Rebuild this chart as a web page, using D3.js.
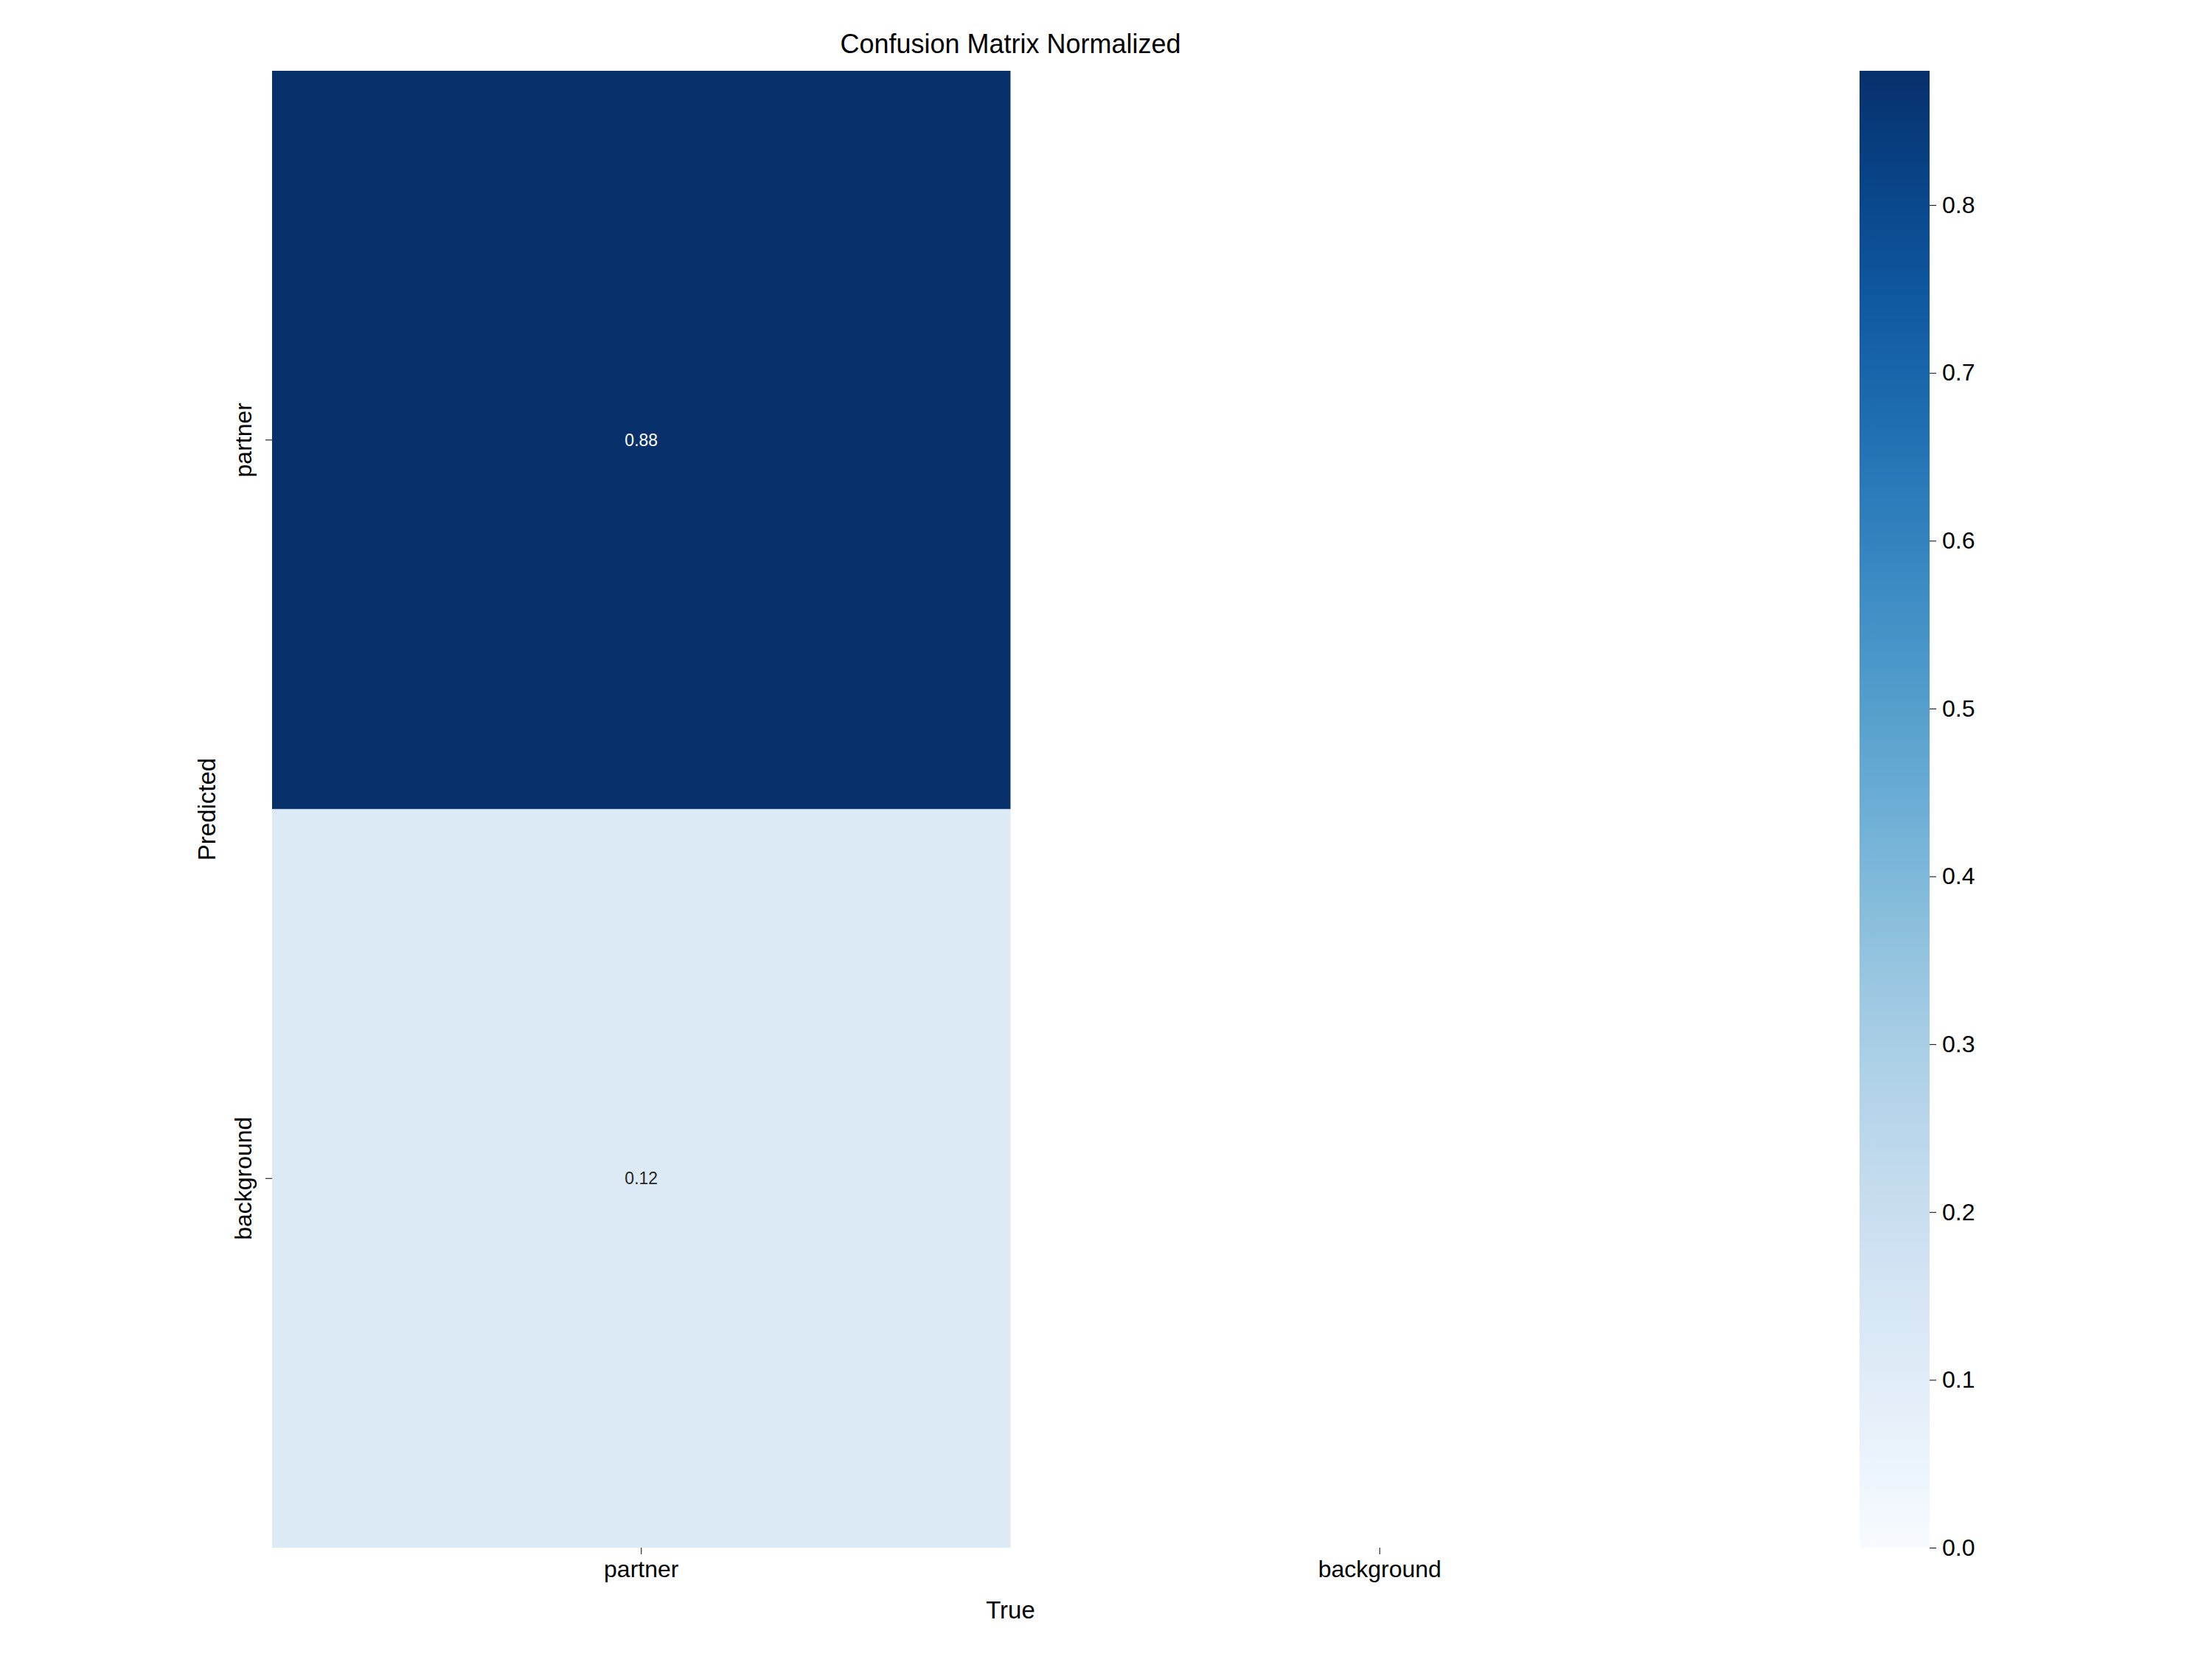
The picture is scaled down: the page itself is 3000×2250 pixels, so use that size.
<!DOCTYPE html>
<html><head><meta charset="utf-8">
<script src="https://cdn.jsdelivr.net/npm/d3@7"></script>
<style>body{margin:0;background:#fff}text{font-family:Arial,"Liberation Sans",sans-serif}</style>
</head><body><svg id="c" width="3000" height="2250"></svg>
<script>
// data: rows = predicted, cols = true; null = not drawn
let labels = ["partner", "background"];
let partner_col = [0.88, 0.12];
let background_col = [null, null];
let cbar_ticks = [0, 0.1, 0.2, 0.3, 0.4, 0.5, 0.6, 0.7, 0.8];

let cells = [];
labels.forEach((p, i) => {
    cells.push({t: "partner", p: p, v: partner_col[i]});
    cells.push({t: "background", p: p, v: background_col[i]});
});
let vmax = d3.max(cells, d => d.v);

let svg = d3.select("#c");
let m_left = 369, m_right = 2372, m_top = 96, m_bottom = 2099;

let x = d3.scaleBand().domain(labels).range([m_left, m_right]);
let y = d3.scaleBand().domain(labels).range([m_top, m_bottom]);
let color = d3.scaleSequential(d3.interpolateBlues).domain([0, vmax]);

let shown = cells.filter(d => d.v != null && d.v > 0);

svg.selectAll("rect.cell").data(shown).enter()
    .append("rect").attr("class", "cell")
    .attr("x", d => x(d.t)).attr("y", d => y(d.p))
    .attr("width", x.bandwidth()).attr("height", y.bandwidth())
    .attr("fill", d => color(d.v));

svg.selectAll("text.ann").data(shown).enter()
    .append("text").attr("class", "ann")
    .attr("x", d => x(d.t) + x.bandwidth() / 2).attr("y", d => y(d.p) + y.bandwidth() / 2)
    .attr("text-anchor", "middle").attr("dominant-baseline", "central")
    .attr("font-size", 23)
    .attr("fill", d => d.v > vmax / 2 ? "#fff" : "#262626")
    .text(d => d.v.toFixed(2));

// axes
let xa = svg.append("g").attr("transform", `translate(0,${m_bottom})`)
    .call(d3.axisBottom(x).tickSize(9).tickPadding(8));
xa.select(".domain").remove();
xa.selectAll("text").attr("font-size", 32).attr("fill", "#000");

let ya = svg.append("g").attr("transform", `translate(${m_left},0)`)
    .call(d3.axisLeft(y).tickSize(9).tickPadding(8));
ya.select(".domain").remove();
ya.selectAll(".tick text").attr("font-size", 32).attr("fill", "#000")
    .attr("x", 0).attr("dy", 0).attr("text-anchor", "middle")
    .attr("transform", "translate(-28,0) rotate(-90)");

svg.append("text").attr("x", (m_left + m_right) / 2).attr("y", 2195).attr("text-anchor", "middle")
    .attr("font-size", 33).text("True");
svg.append("text").attr("transform", `translate(292,${(m_top + m_bottom) / 2}) rotate(-90)`)
    .attr("text-anchor", "middle").attr("font-size", 33).text("Predicted");
svg.append("text").attr("x", (m_left + m_right) / 2).attr("y", 72).attr("text-anchor", "middle")
    .attr("font-size", 36).text("Confusion Matrix Normalized");

// colorbar
let cx = 2522, cw = 95;
let cy = d3.scaleLinear().domain([0, vmax]).range([m_bottom, m_top]);
let grad = svg.append("defs").append("linearGradient").attr("id", "g")
    .attr("x1", 0).attr("x2", 0).attr("y1", 1).attr("y2", 0);
d3.range(0, 1.001, 0.05).forEach(f => grad.append("stop").attr("offset", f).attr("stop-color", color(f * vmax)));
svg.append("rect").attr("x", cx).attr("y", m_top).attr("width", cw).attr("height", m_bottom - m_top).attr("fill", "url(#g)");
let ca = svg.append("g").attr("transform", `translate(${cx + cw},0)`)
    .call(d3.axisRight(cy).tickValues(cbar_ticks).tickFormat(d3.format(".1f")).tickSize(9).tickPadding(8));
ca.select(".domain").remove();
ca.selectAll("text").attr("font-size", 32).attr("fill", "#000");
</script></body></html>
